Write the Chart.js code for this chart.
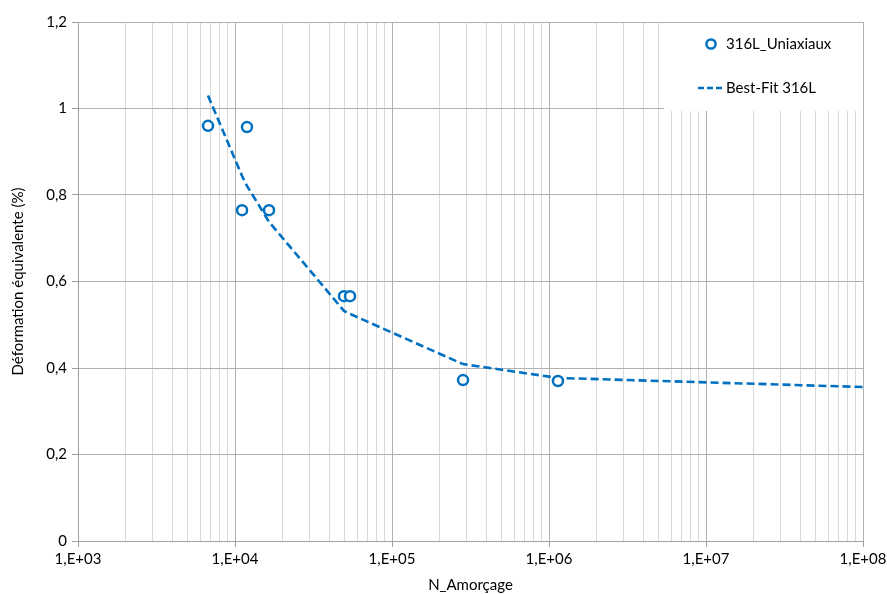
<!DOCTYPE html>
<html>
<head>
<meta charset="utf-8">
<script src="https://cdn.jsdelivr.net/npm/chart.js@4.4.1/dist/chart.umd.min.js"></script>
<style>
  body { margin: 0; background: #fff; }
  canvas { display: block; }
</style>
</head>
<body>
<canvas id="myChart" width="887" height="594"></canvas>
<script>
    // measured points (N cycles to initiation, strain %)
    const pointsX = [6730, 11920, 11090, 16470, 49460, 54020, 283400, 1140000];
    const pointsY = [0.96, 0.957, 0.765, 0.765, 0.566, 0.566, 0.372, 0.370];
    // best-fit curve
    const fitX = [6730, 11090, 11920, 16470, 49460, 54020, 283400, 1140000, 100000000];
    const fitY = [1.03, 0.844, 0.821, 0.738, 0.532, 0.525, 0.409, 0.377, 0.356];
    const decades = [3, 4, 5, 6, 7, 8];
    const yTicks = [0, 0.2, 0.4, 0.6, 0.8, 1, 1.2];

    const blue = '#0070C0';
    const fontFam = 'Lato, "Open Sans", sans-serif';

    const legendBox = {
        id: 'legendBox',
        beforeDatasetsDraw(chart) {
            const c = chart.ctx, a = chart.chartArea;
            c.save();
            c.fillStyle = '#fff';
            c.fillRect(664, a.top + 1, a.right - 664, 110 - a.top);
            c.restore();
        },
        afterDraw(chart) {
            const c = chart.ctx;
            const ds = chart.data.datasets;
            c.save();
            // circle marker entry
            c.strokeStyle = blue;
            c.lineWidth = 2.5;
            c.fillStyle = '#fff';
            c.beginPath();
            c.arc(711, 44, 4.6, 0, Math.PI * 2);
            c.fill();
            c.stroke();
            // dashed line entry
            c.setLineDash([6, 3]);
            c.beginPath();
            c.moveTo(698, 88);
            c.lineTo(724, 88);
            c.stroke();
            c.setLineDash([]);
            c.fillStyle = '#000';
            c.font = '15px ' + fontFam;
            c.textBaseline = 'middle';
            c.fillText(ds[0].label, 726, 44);
            c.fillText(ds[1].label, 726, 88);
            c.restore();
        }
    };

    function isDecade(v) {
        const l = Math.log10(v);
        return Math.abs(l - Math.round(l)) < 1e-9;
    }

    const ctx = document.getElementById('myChart').getContext('2d');
    const myChart = new Chart(ctx, {
        type: 'scatter',
        data: {
            datasets: [{
                label: '316L_Uniaxiaux',
                data: pointsX.map((x, i) => ({x: x, y: pointsY[i]})),
                pointRadius: 5,
                pointBorderWidth: 2.5,
                pointBorderColor: blue,
                pointBackgroundColor: '#fff',
                showLine: false,
                order: 0
            }, {
                label: 'Best-Fit 316L',
                data: fitX.map((x, i) => ({x: x, y: fitY[i]})),
                showLine: true,
                borderColor: blue,
                borderWidth: 2.6,
                borderDash: [8, 4],
                pointRadius: 0,
                fill: false,
                order: 1
            }]
        },
        options: {
            responsive: false,
            animation: false,
            layout: { padding: { left: 0, top: 22, right: 24, bottom: 0 } },
            plugins: {
                legend: { display: false },
                tooltip: { enabled: false }
            },
            scales: {
                x: {
                    type: 'logarithmic',
                    min: 1000,
                    max: 100000000,
                    afterBuildTicks: scale => {
                        const t = [];
                        decades.forEach(d => {
                            if (d === 8) { t.push({value: 1e8}); return; }
                            for (let k = 1; k <= 9; k++) t.push({value: k * Math.pow(10, d)});
                        });
                        scale.ticks = t;
                    },
                    afterFit: scale => {
                        scale.height = 53;
                        scale.paddingLeft = 0;
                        scale.paddingRight = 0;
                    },
                    grid: {
                        color: c => isDecade(c.tick.value) ? '#b0b0b0' : '#d9d9d9',
                        tickColor: c => isDecade(c.tick.value) ? '#a0a0a0' : 'rgba(0,0,0,0)',
                        tickLength: 6,
                        lineWidth: 1
                    },
                    border: { color: '#a0a0a0' },
                    ticks: {
                        autoSkip: false,
                        maxRotation: 0,
                        padding: 3,
                        color: '#000',
                        font: { family: fontFam, size: 15 },
                        callback: v => isDecade(v) ? '1,E+' + String(Math.round(Math.log10(v))).padStart(2, '0') : ''
                    },
                    title: {
                        display: true,
                        text: 'N_Amorçage',
                        color: '#000',
                        font: { family: fontFam, size: 15 },
                        padding: { top: 0, bottom: 0 }
                    }
                },
                y: {
                    min: 0,
                    max: 1.2,
                    afterBuildTicks: scale => { scale.ticks = yTicks.map(v => ({value: v})); },
                    afterFit: scale => { scale.width = 78; },
                    grid: {
                        color: '#b0b0b0',
                        tickColor: '#a0a0a0',
                        tickLength: 6,
                        lineWidth: 1
                    },
                    border: { color: '#a0a0a0' },
                    ticks: {
                        padding: 5,
                        color: '#000',
                        font: { family: fontFam, size: 15 },
                        callback: v => String(+(+v).toFixed(1)).replace('.', ',')
                    },
                    title: {
                        display: true,
                        text: 'Déformation équivalente (%)',
                        color: '#000',
                        font: { family: fontFam, size: 15 },
                        padding: { top: 9, bottom: 0 }
                    }
                }
            }
        },
        plugins: [legendBox]
    });
</script>
</body>
</html>
